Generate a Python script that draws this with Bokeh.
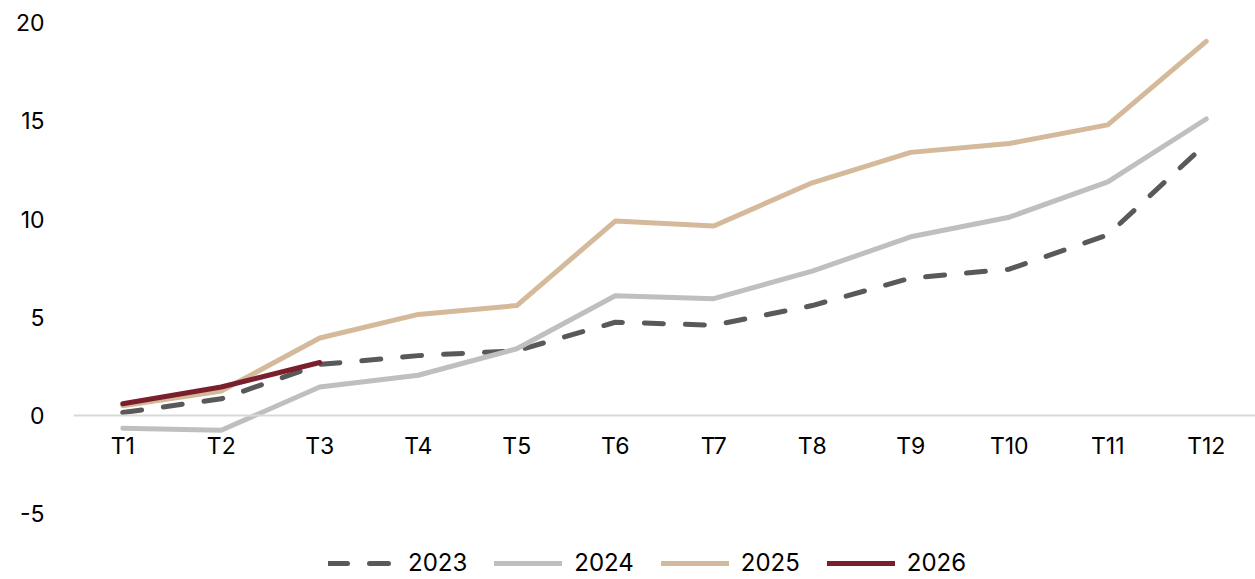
from bokeh.plotting import figure
from bokeh.models import Range1d, FactorRange, FixedTicker, Legend, LegendItem, ColumnDataSource
from bokeh.embed import file_html
from bokeh.resources import INLINE

categories = ["T1", "T2", "T3", "T4", "T5", "T6", "T7", "T8", "T9", "T10", "T11", "T12"]
s2023 = [0.15, 0.85, 2.6, 3.05, 3.3, 4.75, 4.6, 5.6, 7.0, 7.45, 9.2, 13.85]
s2024 = [-0.65, -0.75, 1.45, 2.05, 3.4, 6.1, 5.95, 7.35, 9.1, 10.1, 11.9, 15.1]
s2025 = [0.5, 1.25, 3.95, 5.15, 5.6, 9.9, 9.65, 11.85, 13.4, 13.85, 14.8, 19.05]
s2026 = [0.6, 1.45, 2.7]
y_ticks = [-5, 0, 5, 10, 15, 20]
y_labels = {t: str(t) for t in y_ticks}

FONT = "Inter"

p = figure(width=1255, height=579, x_range=FactorRange(factors=categories),
           y_range=Range1d(-8.35, 20.93), output_backend="svg", toolbar_location=None,
           min_border_left=73, min_border_right=0, min_border_top=4, min_border_bottom=0)
p.outline_line_color = None
p.xgrid.visible = False
p.ygrid.visible = False

p.yaxis.ticker = FixedTicker(ticks=y_ticks)
p.yaxis.major_label_overrides = y_labels
p.yaxis.axis_line_color = None
p.yaxis.major_tick_line_color = None
p.yaxis.minor_tick_line_color = None
p.yaxis.major_label_standoff = 23
p.yaxis.major_label_text_font = FONT
p.yaxis.major_label_text_font_size = "23px"
p.yaxis.major_label_text_color = "#000000"

p.xaxis.fixed_location = 0
p.xaxis.axis_line_color = "#d9d9d9"
p.xaxis.axis_line_width = 2
p.xaxis.major_tick_line_color = None
p.xaxis.minor_tick_line_color = None
p.xaxis.major_label_standoff = 10
p.xaxis.major_label_text_font = FONT
p.xaxis.major_label_text_font_size = "23px"
p.xaxis.major_label_text_color = "#000000"

src = ColumnDataSource(dict(x=categories, y23=s2023, y24=s2024, y25=s2025))
src26 = ColumnDataSource(dict(x=categories[:len(s2026)], y=s2026))

r23 = p.line("x", "y23", source=src, line_color="#595959", line_width=5,
             line_dash="19 22", line_cap="round", line_join="round")
r24 = p.line("x", "y24", source=src, line_color="#bfbfbf", line_width=5, line_cap="round", line_join="round")
r25 = p.line("x", "y25", source=src, line_color="#d5b99b", line_width=5, line_cap="round", line_join="round")
r26 = p.line("x", "y", source=src26, line_color="#7b1f2c", line_width=5, line_cap="round", line_join="round")

legend = Legend(items=[LegendItem(label="2023", renderers=[r23]),
                       LegendItem(label="2024", renderers=[r24]),
                       LegendItem(label="2025", renderers=[r25]),
                       LegendItem(label="2026", renderers=[r26])],
                orientation="horizontal", location=(255, 2),
                border_line_color=None, background_fill_alpha=0,
                glyph_width=68, glyph_height=20, label_standoff=12, spacing=27,
                padding=0, margin=0,
                label_text_font=FONT, label_text_font_size="24px", label_text_color="#000000")
p.add_layout(legend)

open("out.html", "w").write(file_html(p, INLINE))
